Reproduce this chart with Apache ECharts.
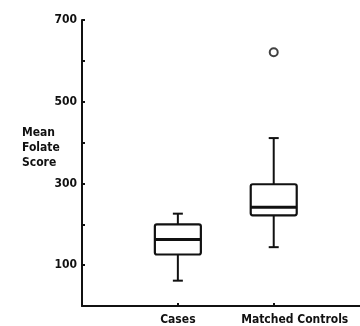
<!DOCTYPE html>
<html>
<head>
<meta charset="utf-8">
<script src="https://cdn.jsdelivr.net/npm/echarts@6/dist/echarts.min.js"></script>
<style>
  html, body { margin: 0; padding: 0; background: #fff; }
  #main { width: 360px; height: 326px; }
</style>
</head>
<body>
<div id="main"></div>
<script>
// groups and box values: [min, Q1, median, Q3, max]
var groups = ['Cases', 'Matched Controls'];
var boxValues = [
    [62, 126, 163, 200, 226],
    [144, 222, 242, 298, 411]
];
// outliers: [group index, value]
var outliers = [
    [1, 621]
];
var yTickLabels = ['100', '300', '500', '700'];

var FONT = '"DejaVu Sans Condensed", "DejaVu Sans", sans-serif';

function mainChart(){
	var chart = echarts.init(document.querySelector('#main'))

	var boxData = boxValues.map(function (v, i) {
		return [i].concat(v)
	})

option = {
    animation: false,
    backgroundColor: '#fff',
    title: {
        text: 'Mean\nFolate\nScore',
        left: 17,
        top: 120,
        textStyle: {
            fontFamily: FONT,
            fontSize: 12,
            fontWeight: 'bold',
            lineHeight: 15,
            color: '#111'
        }
    },
    grid: {
        left: 82,
        right: 0,
        top: 20,
        bottom: 19
    },
    xAxis: {
        type: 'value',
        min: -1,
        max: 1.9,
        interval: 1,
        splitLine: { show: false },
        axisLine: { onZero: false, lineStyle: { color: '#111', width: 2 } },
        axisTick: { inside: true, length: 3, lineStyle: { color: '#111', width: 2 } },
        axisLabel: {
            margin: 8,
            showMaxLabel: false,
            fontFamily: FONT,
            fontSize: 12,
            fontWeight: 'bold',
            color: '#111',
            formatter: function (val) {
                if (val === 0) return groups[0]
                if (val === 1) return '{m|' + groups[1] + '}'
                return ''
            },
            rich: {
                m: {
                    fontFamily: FONT,
                    fontSize: 12,
                    fontWeight: 'bold',
                    color: '#111',
                    padding: [0, 0, 0, 42]
                }
            }
        }
    },
    yAxis: {
        type: 'value',
        min: 0,
        max: 700,
        interval: 100,
        splitLine: { show: false },
        axisLine: { show: true, onZero: false, lineStyle: { color: '#111', width: 2 } },
        axisTick: { show: true, inside: true, length: 3, lineStyle: { color: '#111', width: 2 } },
        axisLabel: {
            margin: 5,
            fontFamily: FONT,
            fontSize: 12,
            fontWeight: 'bold',
            color: '#111',
            formatter: function (val) {
                var s = String(val)
                return yTickLabels.indexOf(s) >= 0 ? s : ''
            }
        }
    },
    series: [
        {
            type: 'custom',
            data: boxData,
            renderItem: function (params, api) {
                var x = api.value(0)
                var lo = api.coord([x, api.value(1)])
                var q1 = api.coord([x, api.value(2)])
                var md = api.coord([x, api.value(3)])
                var q3 = api.coord([x, api.value(4)])
                var hi = api.coord([x, api.value(5)])
                var half = 23, cap = 5
                var st = { stroke: '#111', lineWidth: 2, fill: 'none' }
                return {
                    type: 'group',
                    children: [
                        { type: 'line', shape: { x1: hi[0], y1: hi[1], x2: q3[0], y2: q3[1] }, style: st },
                        { type: 'line', shape: { x1: lo[0], y1: lo[1], x2: q1[0], y2: q1[1] }, style: st },
                        { type: 'line', shape: { x1: hi[0] - cap, y1: hi[1], x2: hi[0] + cap, y2: hi[1] }, style: st },
                        { type: 'line', shape: { x1: lo[0] - cap, y1: lo[1], x2: lo[0] + cap, y2: lo[1] }, style: st },
                        {
                            type: 'rect',
                            shape: { x: q3[0] - half, y: q3[1], width: half * 2, height: q1[1] - q3[1], r: 2 },
                            style: { stroke: '#111', lineWidth: 2.2, fill: '#fff' }
                        },
                        { type: 'line', shape: { x1: md[0] - half, y1: md[1], x2: md[0] + half, y2: md[1] }, style: { stroke: '#111', lineWidth: 3 } }
                    ]
                }
            }
        },
        {
            type: 'scatter',
            data: outliers,
            symbol: 'circle',
            symbolSize: 8,
            itemStyle: { color: '#fff', borderColor: '#111', borderWidth: 2 }
        }
    ]
};

	chart.setOption(option)
}

mainChart()
</script>
</body>
</html>
